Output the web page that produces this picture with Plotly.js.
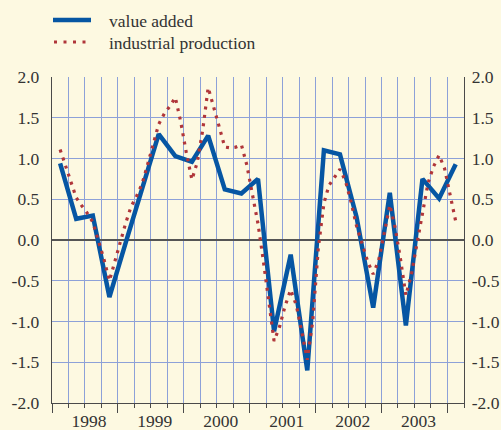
<!DOCTYPE html>
<html>
<head>
<meta charset="utf-8">
<script src="https://cdn.plot.ly/plotly-3.0.1.min.js"></script>
<style>
  html, body { margin: 0; padding: 0; background: #fdf9e1; }
  #chart { width: 501px; height: 430px; }
</style>
</head>
<body>
<div id="chart"></div>
<script>
// Quarterly series: value added, 1998Q1 .. 2004Q1
const quarterLabels = [
  '1998Q1','1998Q2','1998Q3','1998Q4',
  '1999Q1','1999Q2','1999Q3','1999Q4',
  '2000Q1','2000Q2','2000Q3','2000Q4',
  '2001Q1','2001Q2','2001Q3','2001Q4',
  '2002Q1','2002Q2','2002Q3','2002Q4',
  '2003Q1','2003Q2','2003Q3','2003Q4',
  '2004Q1'
];
const valueAdded = [
  0.94, 0.26, 0.30, -0.70,
  -0.02, 0.64, 1.30, 1.03,
  0.96, 1.28, 0.62, 0.57,
  0.75, -1.12, -0.18, -1.60,
  1.10, 1.05, 0.28, -0.83,
  0.58, -1.05, 0.75, 0.51,
  0.93
];

// Monthly series: industrial production, Feb 1998 .. Feb 2004
const monthStart = '1998-02';
const industrialProduction = [
  1.11, 0.92, 0.71, 0.52, 0.42, 0.33, 0.22, -0.01, -0.23, -0.50, -0.28,
  -0.02, 0.22, 0.41, 0.54, 0.69, 0.93, 1.18, 1.42, 1.55, 1.64, 1.75, 1.45,
  1.07, 0.74, 0.95, 1.35, 1.87, 1.64, 1.39, 1.14, 1.13, 1.14, 1.17, 0.92,
  0.55, 0.20, -0.23, -0.73, -1.24, -1.06, -0.81, -0.61, -0.80, -1.12,
  -1.47, -1.00, -0.10, 0.45, 0.67, 0.77, 0.87, 0.72, 0.47, 0.17, -0.04,
  -0.26, -0.42, -0.25, 0.08, 0.43, 0.17, -0.23, -0.68, -0.42, -0.05,
  0.35, 0.70, 0.90, 1.04, 0.88, 0.57, 0.23
];

const seriesNames = ['value added', 'industrial production'];
const yTicks = [-2, -1.5, -1, -0.5, 0, 0.5, 1, 1.5, 2];
const yTickText = ['-2.0', '-1.5', '-1.0', '-0.5', '0.0', '0.5', '1.0', '1.5', '2.0'];

// quarter label -> date at the middle of the quarter
function quarterToDate(q) {
  const y = +q.slice(0, 4), n = +q.slice(5);
  const m = (n - 1) * 3 + 2;
  return y + '-' + String(m).padStart(2, '0') + '-15';
}
function monthDates(start, count) {
  let y = +start.slice(0, 4), m = +start.slice(5);
  const out = [];
  for (let i = 0; i < count; i++) {
    out.push(y + '-' + String(m).padStart(2, '0') + '-15');
    m++; if (m > 12) { m = 1; y++; }
  }
  return out;
}

const qDates = quarterLabels.map(quarterToDate);
const mDates = monthDates(monthStart, industrialProduction.length);

const serif = 'Liberation Serif, Times New Roman, serif';
const gridC = 'rgb(141,161,216)';
const lineC = '#4a4a4a';
const bg = '#fdf9e1';
const blue = '#0656a3';
const red = '#b0363a';
const redDash = '3px,5.5px';

const traces = [
  {
    x: qDates, y: valueAdded, name: seriesNames[0],
    type: 'scatter', mode: 'lines',
    line: { color: blue, width: 4.5 },
    hoverinfo: 'skip', showlegend: false
  },
  {
    x: mDates, y: industrialProduction, name: seriesNames[1],
    type: 'scatter', mode: 'lines', yaxis: 'y2',
    line: { color: red, width: 3.2, dash: redDash },
    hoverinfo: 'skip', showlegend: false
  }
];

// legend drawn in the top margin (plot area: x 52..464, y 77..403 px)
const plotL = 52, plotW = 412, plotB = 403, plotH = 326;
const px = v => (v - plotL) / plotW;
const py = v => (plotB - v) / plotH;
const legendRows = [20, 42];

const layout = {
  width: 501, height: 430,
  paper_bgcolor: bg, plot_bgcolor: bg,
  margin: { l: 52, r: 37, t: 77, b: 27, autoexpand: false },
  font: { family: serif, size: 17.5, color: '#333' },
  showlegend: false,
  shapes: [
    { type: 'line', xref: 'paper', yref: 'paper',
      x0: px(53), x1: px(91), y0: py(legendRows[0]), y1: py(legendRows[0]),
      line: { color: blue, width: 4.5 } },
    { type: 'line', xref: 'paper', yref: 'paper',
      x0: px(54), x1: px(92), y0: py(legendRows[1]), y1: py(legendRows[1]),
      line: { color: red, width: 3.2, dash: '3px,6.5px' } }
  ],
  annotations: [
    { xref: 'paper', yref: 'paper', x: px(107), y: py(legendRows[0] + 1),
      xanchor: 'left', yanchor: 'middle', showarrow: false,
      text: seriesNames[0], font: { family: serif, size: 17.5, color: '#333' } },
    { xref: 'paper', yref: 'paper', x: px(107), y: py(legendRows[1] + 1),
      xanchor: 'left', yanchor: 'middle', showarrow: false,
      text: seriesNames[1], font: { family: serif, size: 17.5, color: '#333' } }
  ],
  xaxis: {
    type: 'date',
    range: ['1998-01-01', '2004-04-01'],
    tick0: '1998-01-01', dtick: 'M12',
    tickformat: '%Y', ticklabelmode: 'period',
    ticks: 'outside', ticklen: 9, tickcolor: lineC, tickwidth: 1,
    ticklabelshift: 4, ticklabelstandoff: -7,
    showgrid: true, gridcolor: gridC, gridwidth: 1,
    showline: true, linecolor: lineC, linewidth: 1.2,
    zeroline: false, automargin: false,
    tickfont: { family: serif, size: 17.5, color: '#333' },
    minor: {
      tick0: '1998-01-01', dtick: 'M3',
      ticks: 'outside', ticklen: 4, tickcolor: lineC, tickwidth: 1,
      showgrid: true, gridcolor: gridC, gridwidth: 1
    }
  },
  yaxis: {
    range: [-2, 2], tickvals: yTicks, ticktext: yTickText,
    ticks: '', ticklabelstandoff: 8,
    showgrid: true, gridcolor: gridC, gridwidth: 1,
    zeroline: true, zerolinecolor: '#555', zerolinewidth: 1.2,
    showline: true, linecolor: lineC, linewidth: 1.2, automargin: false,
    tickfont: { family: serif, size: 17.5, color: '#333' }
  },
  yaxis2: {
    overlaying: 'y', side: 'right',
    range: [-2, 2], tickvals: yTicks, ticktext: yTickText,
    ticks: '', ticklabelstandoff: 3,
    showgrid: false, zeroline: false,
    showline: true, linecolor: lineC, linewidth: 1.2, automargin: false,
    tickfont: { family: serif, size: 17.5, color: '#333' }
  }
};

Plotly.newPlot('chart', traces, layout, { staticPlot: true, displayModeBar: false });
</script>
</body>
</html>
